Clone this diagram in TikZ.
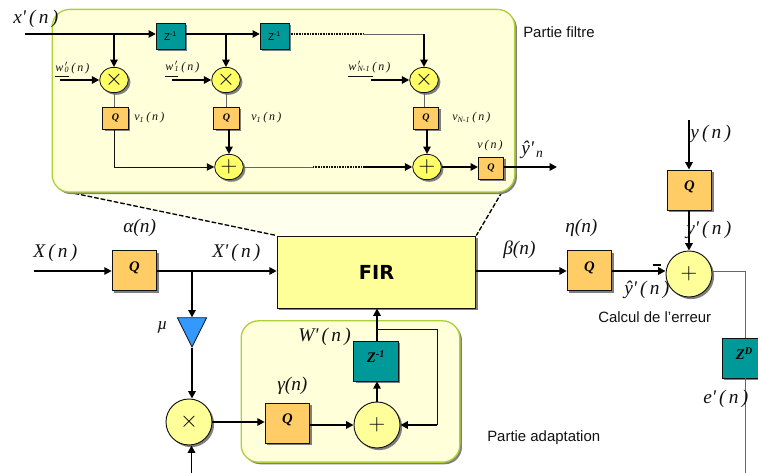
\documentclass[tikz,border=0pt]{standalone}
\usepackage{fontspec}
\setmainfont{Liberation Serif}
\setsansfont{Liberation Sans}
\newfontfamily\firafont{DejaVu Sans}
\usepackage{xcolor}
\usetikzlibrary{arrows.meta,shapes.geometric,shadows}
\definecolor{INK}{HTML}{111111}
\definecolor{PANEL}{HTML}{FFFFD9}
\definecolor{EDGE}{HTML}{AFD138}
\definecolor{PALE}{HTML}{FFFFEE}
\definecolor{FIRFILL}{HTML}{FFFF99}
\definecolor{QFILL}{HTML}{FFCC66}
\definecolor{TEAL}{HTML}{009999}
\definecolor{OPFILL}{HTML}{FFFF66}
\definecolor{BIGOP}{HTML}{FFFF99}
\definecolor{MU}{HTML}{3399FF}
\definecolor{SHADE}{HTML}{7F7F7F}
\definecolor{WIRE}{HTML}{666666}

\begin{document}
\begin{tikzpicture}[
  x=0.75pt, y=-0.75pt,
  shade/.style={copy shadow={shadow xshift=1.6pt, shadow yshift=-1.6pt, draw=none, fill=SHADE}},
  panel/.style={rectangle, rounded corners=13pt, draw=EDGE, line width=1pt, fill=PANEL, shade},
  firbox/.style={rectangle, draw=INK, line width=0.7pt, fill=FIRFILL, shade, minimum width=149pt, minimum height=54pt, font=\firafont\bfseries\fontsize{14.5}{15}\selectfont},
  qbig/.style={rectangle, draw=INK, line width=0.7pt, fill=QFILL, shade, inner sep=0pt, minimum width=33.5pt, minimum height=30pt, text depth=6pt, font=\bfseries\itshape\fontsize{11}{11}\selectfont},
  qsmall/.style={rectangle, draw=INK, line width=0.6pt, fill=QFILL, shade, inner sep=0pt, minimum width=19pt, minimum height=16.5pt, font=\bfseries\itshape\fontsize{7.5}{8}\selectfont},
  zbig/.style={rectangle, draw=INK, line width=0.5pt, fill=TEAL, shade, inner sep=0pt, minimum width=33.5pt, minimum height=30pt, text depth=7pt, font=\bfseries\itshape\fontsize{11}{11}\selectfont},
  zsmall/.style={rectangle, draw=INK, line width=0.5pt, fill=TEAL, shade, inner sep=0pt, minimum width=21.5pt, minimum height=19.5pt, font=\sffamily\fontsize{7.5}{8}\selectfont},
  opsmall/.style={ellipse, draw=INK, line width=0.6pt, fill=OPFILL, inner sep=0pt, minimum width=21.5pt, minimum height=19pt, font=\fontsize{16}{16}\selectfont},
  opbig/.style={circle, draw=INK, line width=0.7pt, fill=BIGOP, shade, inner sep=0pt, minimum size=34.5pt, font=\fontsize{17}{17}\selectfont},
  arr/.style={-{Triangle[length=5.5pt,width=5.5pt]}, draw=black, line width=1.3pt},
  thinarr/.style={-{Triangle[length=5.5pt,width=5.5pt]}, draw=INK, line width=0.7pt},
  wire/.style={draw=WIRE, line width=0.7pt},
  dense/.style={draw=INK, line width=1pt, dash pattern=on 0.7pt off 0.5pt},
  zoomline/.style={draw=black, line width=1pt, dash pattern=on 3.5pt off 1.5pt},
  sig/.style={inner sep=0pt, text=INK, font=\itshape\fontsize{14.5}{15}\selectfont},
  sigsmall/.style={inner sep=0pt, text=INK, font=\itshape\fontsize{9}{10}\selectfont},
  note/.style={inner sep=0pt, text=INK, font=\sffamily\fontsize{11.2}{12}\selectfont}
]
\useasboundingbox (0,0) rectangle (758,473);

% zoom lines from the filter part down to the FIR block
\coordinate (zl) at (68,192);
\coordinate (zr) at (502,192);
\node[firbox] (fir) at (376.5,272) {FIR};
\fill[PALE] (zl) -- (fir.north west) -- (fir.north east) -- (zr) -- cycle;
\draw[zoomline] (zl) -- (fir.north west);
\draw[zoomline] (zr) -- (fir.north east);

% panels
\node[panel, minimum width=347pt, minimum height=137pt] (filt) at (283.5,100.75) {};
\node[panel, minimum width=164pt, minimum height=106pt] (adapt) at (350.5,391.5) {};
\node[firbox] (fir) at (376.5,272) {FIR};

% filter part: delay line
\node[zsmall] (z1) at (170.5,36) {Z\textsuperscript{-1}};
\node[zsmall] (z2) at (274.5,36) {Z\textsuperscript{-1}};
\coordinate (xin) at (25,34);
\coordinate (t1) at (114,34);
\coordinate (t2) at (226,34);
\coordinate (t3) at (363,34);
\coordinate (t4) at (424,34);

% filter part: multipliers
\node[opsmall, shade] (m1) at (114,80) {$\times$};
\node[opsmall, shade] (m2) at (226,80) {$\times$};
\node[opsmall, shade] (m3) at (424,80) {$\times$};
\node[qsmall] (q1) at (115.5,118) {Q};
\node[qsmall] (q2) at (226.5,118) {Q};
\node[qsmall] (q3) at (426,118) {Q};
\node[opsmall, shade] (a1) at (229,167) {$+$};
\node[opsmall, shade] (a2) at (427,167) {$+$};
\node[qsmall] (q4) at (491,168) {Q};
\coordinate (yout) at (557,167);

\draw[arr] (xin) -- (z1.west |- xin);
\draw[arr] (z1.east |- t1) -- (z2.west |- t1);
\draw[arr] (t1) -- (m1);
\draw[arr] (t2) -- (m2);
\draw[dense] (z2.east |- t3) -- (t3);
\draw[wire] (t3) -- (t4);
\draw[arr] (t4) -- (m3);
\draw[wire] (m1) -- (m1 |- q1.north);
\draw[wire] (m2) -- (m2 |- q2.north);
\draw[wire] (m3) -- (m3 |- q3.north);
\coordinate (b1) at (114,167);
\coordinate (b2) at (313,167);
\coordinate (b3) at (363,167);
\draw[wire, draw=INK] (q1.south -| b1) -- (b1);
\draw[thinarr] (b1) -- (a1.west);
\draw[arr] (a1.north |- q2.south) -- (a1.north);
\draw[wire] (a1.east) -- (b2);
\draw[dense] (b2) -- (b3);
\draw[arr] (b3) -- (a2.west);
\draw[arr] (a2.north |- q3.south) -- (a2.north);
\draw[arr] (a2.east) -- (q4.west |- a2.east);
\draw[arr] (q4.east |- yout) -- (yout);

% weights
\node[sigsmall, anchor=west] (w0) at (55,68) {w\rlap{\textsuperscript{\,\textit{$\prime$}}}\textsubscript{\,0}\,(\,n\,)};
\node[sigsmall, anchor=west] (w1) at (165,67) {w\rlap{\textsuperscript{\,\textit{$\prime$}}}\textsubscript{\,1}\,(\,n\,)};
\node[sigsmall, anchor=west] (w2) at (348,67) {w\rlap{\textsuperscript{\,\textit{$\prime$}}}\textsubscript{\,N-1}\,(\,n\,)};
\coordinate (w0in) at (60,80);
\coordinate (w1in) at (172,80);
\coordinate (w2in) at (371,80);
\draw[wire, draw=INK] (55,76.5) -- (69,76.5);
\draw[wire, draw=INK] (165,76.5) -- (178,76.5);
\draw[wire, draw=INK] (348,76.5) -- (373,76.5);
\draw[arr] (w0in) -- (m1);
\draw[arr] (w1in) -- (m2);
\draw[arr] (w2in) -- (m3);

% filter part: signal names
\node[sig, anchor=west] (lxp) at (13,19) {x\textquotesingle\,(\,n\,)};
\node[sigsmall, anchor=west] (lv1) at (134,118) {v\textsubscript{1}\,(\,n\,)};
\node[sigsmall, anchor=west] (lv2) at (251,118) {v\textsubscript{1}\,(\,n\,)};
\node[sigsmall, anchor=west] (lv3) at (452,118) {v\textsubscript{N-1}\,(\,n\,)};
\node[sigsmall, anchor=west] (lv4) at (477,146) {v\,(\,n\,)};
\node[sig, anchor=west] (lyn) at (521,150) {ŷ\textquotesingle\textsubscript{\,n}};
\node[note, anchor=west] (nfilt) at (523,32) {Partie filtre};

% main row
\coordinate (xmain) at (34,271);
\node[qbig] (qa) at (134.5,270.5) {Q\hspace{4pt}};
\coordinate (tmu) at (192,271);
\node[isosceles triangle, isosceles triangle apex angle=53, draw=INK, line width=0.6pt, fill=MU, inner sep=0pt, minimum height=22pt, shape border rotate=270, anchor=apex] (mu) at (192,348) {};
\node[opbig] (mul) at (189,422) {$\times$};
\node[qbig] (qg) at (287.5,423) {Q\hspace{4pt}};
\node[opbig] (add) at (377,425) {$+$};
\node[zbig] (zw) at (376,361) {Z\textsuperscript{-1}\hspace{7pt}};
\coordinate (fb1) at (377,329);
\coordinate (fb2) at (437,329);
\coordinate (fb3) at (437,425);
\coordinate (mlow) at (191.5,480);

\draw[arr] (xmain) -- (qa.west |- xmain);
\draw[arr] (qa.east |- xmain) -- (fir.west |- xmain);
\draw[arr] (tmu) -- (tmu |- mu.north);
\draw[arr] (mu.apex) -- (mu.apex |- mul.north);
\draw[arr] (mlow) -- (mlow |- mul.south);
\draw[arr] (mul.east) -- (qg.west |- mul.east);
\draw[arr] (qg.east |- add) -- (add.west);
\draw[arr] (add.north) -- (add.north |- zw.south);
\draw[arr] (add.north |- zw.north) -- (add.north |- fir.south);
\draw[draw=INK, line width=0.7pt] (fb1) -- (fb2) -- (fb3);
\draw[arr] (fb3) -- (add.east);

% error part
\node[qbig] (qe) at (589.5,270.5) {Q\hspace{4pt}};
\node[opbig] (err) at (689,274) {$+$};
\node[qbig] (qy) at (689.5,190) {Q\hspace{4pt}};
\node[zbig] (zd) at (744.5,358) {Z\textsuperscript{D}\hspace{7pt}};
\coordinate (yin) at (689,120);
\coordinate (c1) at (745,271);
\coordinate (elow) at (745,480);
\coordinate (rowe) at (600,271);
\draw[arr] (fir.east |- rowe) -- (qe.west |- rowe);
\draw[arr] (qe.east |- c1) -- (err.west |- c1);
\draw[line width=1.4pt] (652.5,265) -- (660.5,265);
\draw[arr] (yin) -- (qy.north -| yin);
\draw[arr] (qy.south -| yin) -- (err.north);
\draw[wire] (err.east |- c1) -- (c1) -- (zd.north -| c1);
\draw[wire] (zd.south -| c1) -- (elow);

% signal names
\node[sig, anchor=west] (lX) at (33,253) {X\,(\,n\,)};
\node[sig, anchor=west] (la) at (123,228) {α(n)};
\node[sig, anchor=west] (lXp) at (212,253) {X\textquotesingle\,(\,n\,)};
\node[sig, font=\itshape\fontsize{13}{13}\selectfont, anchor=west] (lmu) at (157,327) {µ};
\node[sig, anchor=west] (lW) at (298,337) {W\textquotesingle\,(\,n\,)};
\node[sig, anchor=west] (lg) at (277,386) {γ(n)};
\node[sig, anchor=west] (lb) at (503,250) {β(n)};
\node[sig, anchor=west] (le) at (565,228) {η(n)};
\node[sig, anchor=west] (lyh) at (624,290) {ŷ\textquotesingle\,(\,n\,)};
\node[sig, anchor=west] (ly) at (690,134) {y\,(\,n\,)};
\node[sig, anchor=west] (lyp) at (686,230) {y\textquotesingle\,(\,n\,)};
\node[sig, anchor=west] (lep) at (703,399) {e\textquotesingle\,(\,n\,)};
\node[note, anchor=west] (nerr) at (598,317) {Calcul de l'erreur};
\node[note, anchor=west] (nad) at (487,438) {Partie adaptation};

\end{tikzpicture}
\end{document}
